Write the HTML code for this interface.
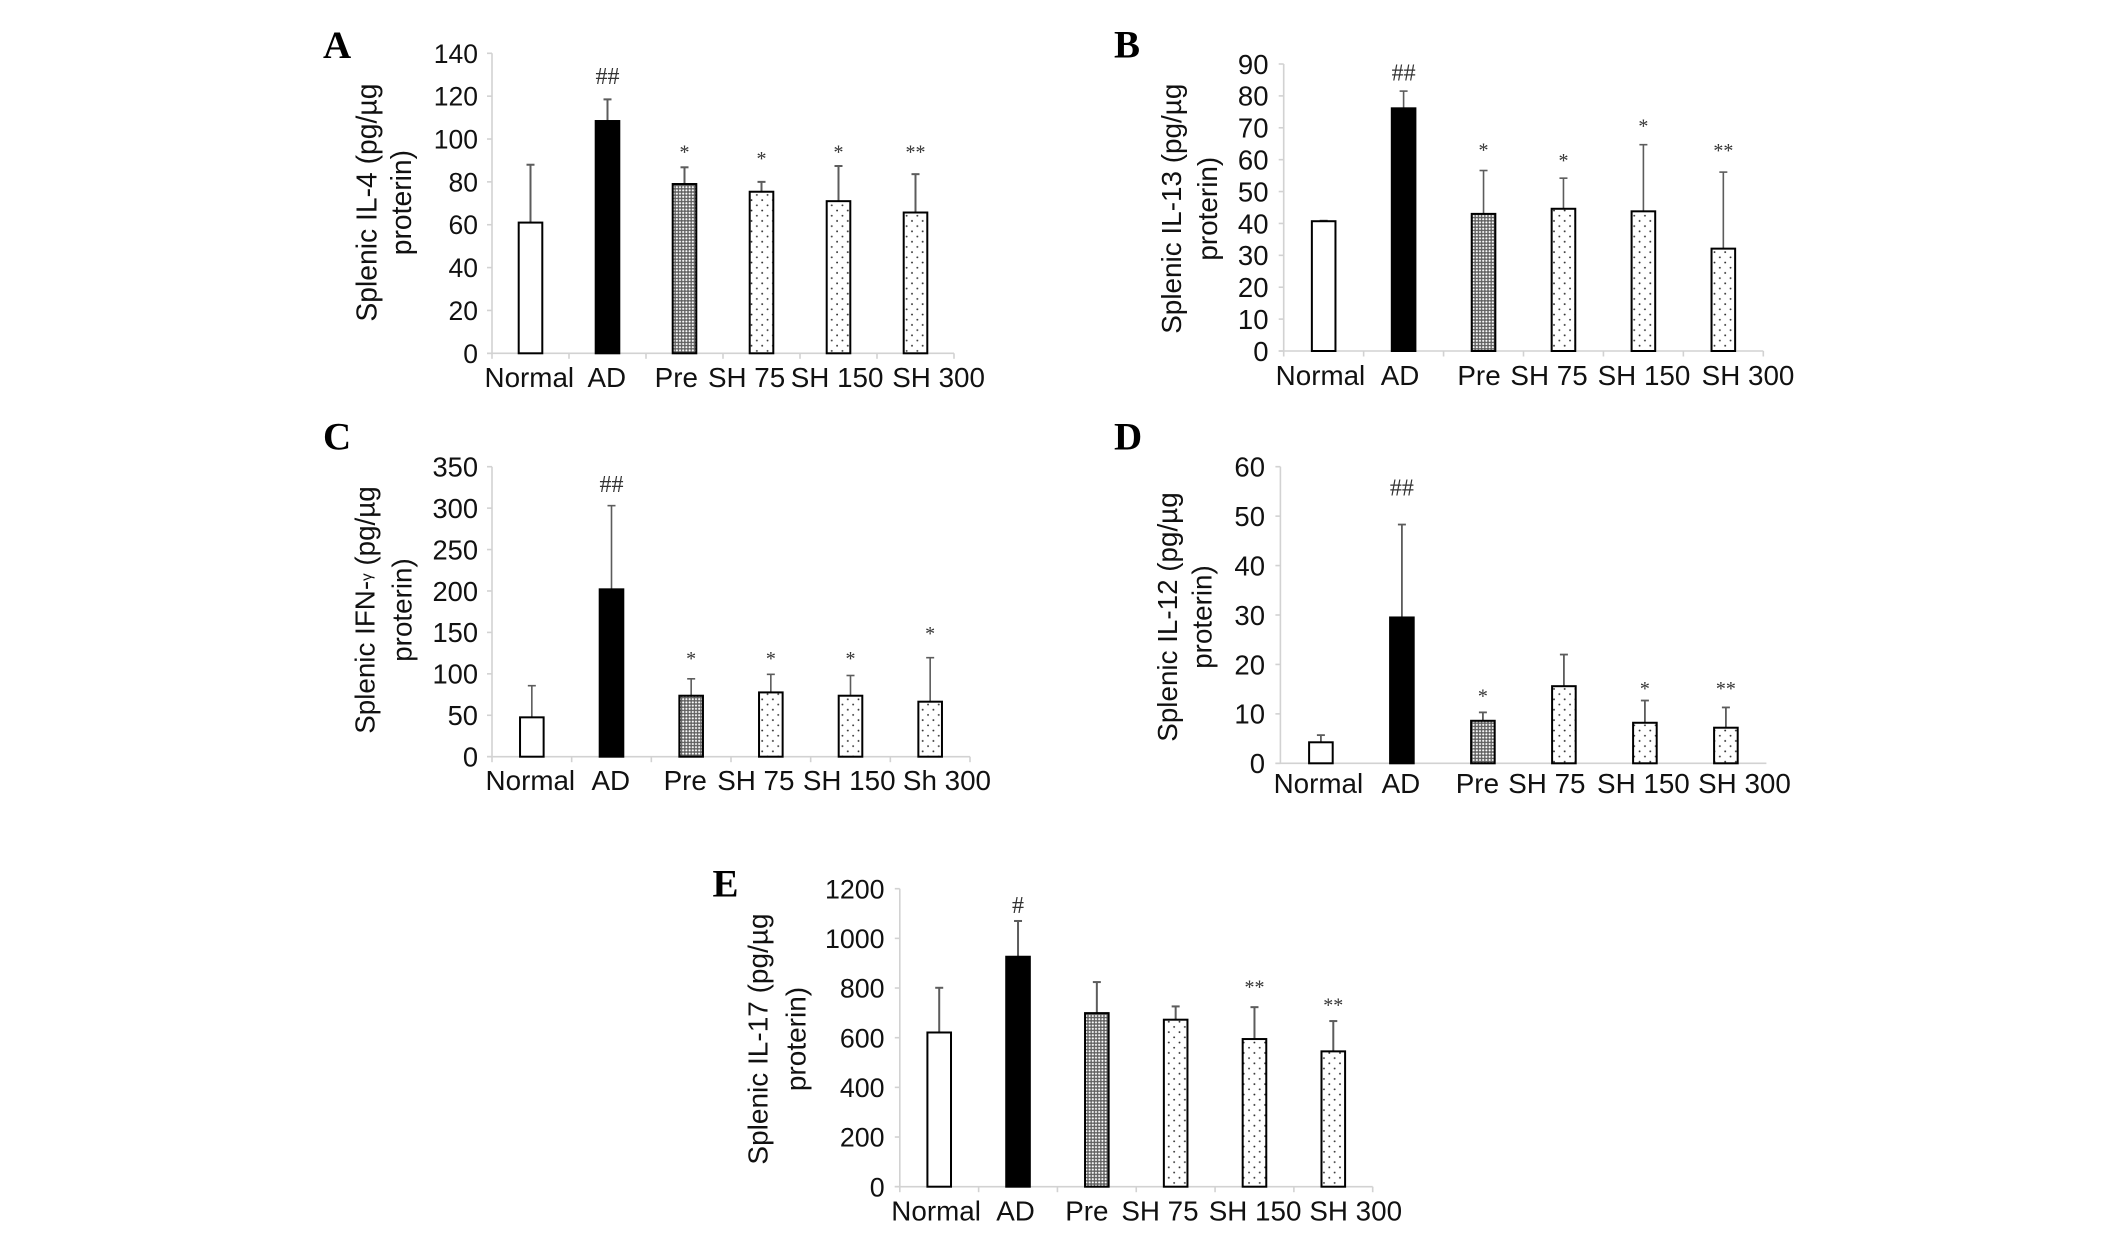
<!DOCTYPE html>
<html lang="en">
<head>
<meta charset="utf-8">
<title>Splenic cytokine levels</title>
<style>
html,body{margin:0;padding:0;background:#fff;}
#figure{display:block;width:2126px;height:1234px;background:#fff;}
text{font-family:"Liberation Sans",Arial,sans-serif;fill:#111;}
.panel-letter{font-family:"Liberation Serif","Times New Roman",serif;font-weight:bold;font-size:39px;fill:#000;}
.annotation{font-family:"Liberation Serif","Times New Roman",serif;fill:#333;text-anchor:middle;}
</style>
</head>
<body>
<svg id="figure" xmlns="http://www.w3.org/2000/svg" width="2126" height="1234" viewBox="0 0 2126 1234">
  <defs>
    <pattern id="pre-fill" patternUnits="userSpaceOnUse" width="3.2" height="3.2">
      <rect width="3.2" height="3.2" fill="#606060"/>
      <circle cx="1.6" cy="1.6" r="1.05" fill="#fff"/>
    </pattern>
    <pattern id="sh-fill" patternUnits="userSpaceOnUse" width="10.7" height="10.4">
      <rect width="10.7" height="10.4" fill="#fff"/>
      <circle cx="2.5" cy="2.5" r="0.95" fill="#2a2a2a"/>
      <circle cx="7.85" cy="7.7" r="0.95" fill="#3a3a3a"/>
    </pattern>
  </defs>
</svg>
<script>
// ---- Shared categories ----
const categories = ["Normal", "AD", "Pre", "SH 75", "SH 150", "SH 300"];
const categoriesC = ["Normal", "AD", "Pre", "SH 75", "SH 150", "Sh 300"];

// ---- Panel A: IL-4 ----
const il4Ticks = [0, 20, 40, 60, 80, 100, 120, 140];
const il4Means = [61, 108.4, 79, 75.4, 71, 65.7];
const il4ErrorTops = [88, 118.5, 86.8, 80, 87.4, 83.6];
const il4Marks = ["", "##", "*", "*", "*", "**"];
const il4MarkLevels = [0, 129.4, 94.9, 91.7, 94.9, 94.9];

// ---- Panel B: IL-13 ----
const il13Ticks = [0, 10, 20, 30, 40, 50, 60, 70, 80, 90];
const il13Means = [40.7, 76.1, 43, 44.6, 43.8, 32.1];
const il13ErrorTops = [40.9, 81.5, 56.6, 54.2, 64.7, 56.1];
const il13Marks = ["", "##", "*", "*", "*", "**"];
const il13MarkLevels = [0, 87.3, 63.6, 60.3, 71.1, 63.4];

// ---- Panel C: IFN-gamma ----
const ifnTicks = [0, 50, 100, 150, 200, 250, 300, 350];
const ifnMeans = [47.5, 202, 73.6, 77.6, 73.6, 66.4];
const ifnErrorTops = [85.7, 303, 94, 99.4, 98, 119.5];
const ifnMarks = ["", "##", "*", "*", "*", "*"];
const ifnMarkLevels = [0, 329, 120.7, 120.7, 120.7, 150.8];

// ---- Panel D: IL-12 ----
const il12Ticks = [0, 10, 20, 30, 40, 50, 60];
const il12Means = [4.25, 29.5, 8.6, 15.6, 8.2, 7.2];
const il12ErrorTops = [5.7, 48.3, 10.3, 22, 12.7, 11.3];
const il12Marks = ["", "##", "*", "", "*", "**"];
const il12MarkLevels = [0, 55.8, 14, 0, 15.5, 15.5];

// ---- Panel E: IL-17 ----
const il17Ticks = [0, 200, 400, 600, 800, 1000, 1200];
const il17Means = [621, 926, 699, 672.5, 594.6, 545];
const il17ErrorTops = [801, 1070, 824, 726, 723, 667];
const il17Marks = ["", "#", "", "", "**", "**"];
const il17MarkLevels = [0, 1134, 0, 0, 811, 739.6];

const SVG_NS = "http://www.w3.org/2000/svg";
const figure = document.getElementById("figure");

function make(parent, tag, attrs, text) {
  const el = document.createElementNS(SVG_NS, tag);
  for (const k in attrs) el.setAttribute(k, attrs[k]);
  if (text !== undefined) el.textContent = text;
  parent.appendChild(el);
  return el;
}

function drawPanel(cfg) {
  const group = make(figure, "g", {});
  
  

  const maxTick = cfg.ticks[cfg.ticks.length - 1];
  const yScale = v => cfg.y0 - (v / maxTick) * (cfg.y0 - cfg.yTop);
  const band = (cfg.xRight - cfg.xLeft) / cfg.cats.length;
  const xCenter = i => cfg.xLeft + band * (i + 0.5);

  const letter = make(group, "text", {x: cfg.letterX, y: cfg.letterY, "class": "panel-letter"}, cfg.id);
  
  

  // axes
  const yAxis = make(group, "line", {x1: cfg.xLeft, x2: cfg.xLeft, y1: cfg.yTop, y2: cfg.y0, stroke: "#d2d2d2", "stroke-width": 1.6});
  
  
  const xAxis = make(group, "line", {x1: cfg.xLeft - 5, x2: cfg.xRight, y1: cfg.y0, y2: cfg.y0, stroke: "#d2d2d2", "stroke-width": 1.6});
  
  

  cfg.ticks.forEach(t => {
    const y = yScale(t);
    const tick = make(group, "line", {x1: cfg.xLeft - 5, x2: cfg.xLeft, y1: y, y2: y, stroke: "#d2d2d2", "stroke-width": 1.6});
    
    
    const label = make(group, "text", {x: cfg.tickRight, y: y + cfg.tickSize * 0.358, "text-anchor": "end", "font-size": cfg.tickSize}, String(t));
    
    
  });

  if (cfg.xTicks) {
    for (let i = 0; i <= cfg.cats.length; i++) {
      const x = cfg.xLeft + band * i;
      const tick = make(group, "line", {x1: x, x2: x, y1: cfg.y0, y2: cfg.y0 + 5.5, stroke: "#d2d2d2", "stroke-width": 1.6});
      
      
    }
  }

  // titles
  const title1 = make(group, "text", {x: cfg.titleX1, y: cfg.titleCY, "text-anchor": "middle", "font-size": cfg.titleSize, transform: "rotate(-90 " + cfg.titleX1 + " " + cfg.titleCY + ")"});
  
  
  if (cfg.gamma) {
    make(title1, "tspan", {}, cfg.titleA);
    make(title1, "tspan", {"font-size": 15, dy: -3}, "γ");
    make(title1, "tspan", {dy: 3}, cfg.titleB);
  } else {
    title1.textContent = cfg.titleA;
  }
  const title2 = make(group, "text", {x: cfg.titleX2, y: cfg.titleCY, "text-anchor": "middle", "font-size": cfg.titleSize, transform: "rotate(-90 " + cfg.titleX2 + " " + cfg.titleCY + ")"}, "proterin)");
  
  

  // bars, errors, annotations, labels
  cfg.cats.forEach((cat, i) => {
    const cx = xCenter(i);
    const topY = yScale(cfg.means[i]);
    const errY = yScale(cfg.errs[i]);

    const err = make(group, "line", {x1: cx, x2: cx, y1: errY, y2: topY, stroke: "#5c5c5c", "stroke-width": cfg.errWidth});
    
    
    const cap = make(group, "line", {x1: cx - 4, x2: cx + 4, y1: errY, y2: errY, stroke: "#5c5c5c", "stroke-width": cfg.errWidth});
    
    

    const fill = i === 0 ? "#fff" : i === 1 ? "#000" : i === 2 ? "url(#pre-fill)" : "url(#sh-fill)";
    const bar = make(group, "rect", {x: cx - 11.8, y: topY, width: 23.6, height: cfg.y0 - topY, fill: fill, stroke: "#000", "stroke-width": 2});
    
    

    if (cfg.marks[i]) {
      const isHash = cfg.marks[i].indexOf("#") >= 0;
      const markSize = isHash ? 24 : 20;
      const my = yScale(cfg.markLevels[i]) + (isHash ? markSize * 0.33 : markSize * 0.42);
      const mark = make(group, "text", {x: cx, y: my, "class": "annotation", "font-size": markSize}, cfg.marks[i]);
      
      
    }

    const lab = make(group, "text", {x: cx + cfg.labelNudge[i], y: cfg.labelY, "text-anchor": "middle", "font-size": cfg.labelSize}, cat);
    
    
  });
}

drawPanel({
  id: "A", cats: categories, ticks: il4Ticks, means: il4Means, errs: il4ErrorTops, marks: il4Marks, markLevels: il4MarkLevels,
  xLeft: 492, xRight: 954, y0: 353.3, yTop: 53.3, xTicks: true, tickRight: 478, tickSize: 26.5, labelY: 387, labelSize: 27.8,
  labelNudge: [-1.2, -0.7, -8.2, -14.9, -1.4, 23.1], titleA: "Splenic IL-4 (pg/µg", titleSize: 28.3, titleX1: 376.6, titleX2: 411, titleCY: 202.6,
  letterX: 323, letterY: 58, errWidth: 2
});
drawPanel({
  id: "B", cats: categories, ticks: il13Ticks, means: il13Means, errs: il13ErrorTops, marks: il13Marks, markLevels: il13MarkLevels,
  xLeft: 1283.7, xRight: 1763.3, y0: 351, yTop: 64, xTicks: true, tickRight: 1268.5, tickSize: 27.5, labelY: 385, labelSize: 27.8,
  labelNudge: [-3.2, -3.6, -4.5, -14.4, 0.6, 24.7], titleA: "Splenic IL-13 (pg/µg", titleSize: 27.9, titleX1: 1181, titleX2: 1217, titleCY: 208.7,
  letterX: 1114, letterY: 57.5, errWidth: 1.6
});
drawPanel({
  id: "C", cats: categoriesC, ticks: ifnTicks, means: ifnMeans, errs: ifnErrorTops, marks: ifnMarks, markLevels: ifnMarkLevels,
  xLeft: 492, xRight: 970, y0: 756.7, yTop: 466.7, xTicks: true, tickRight: 478, tickSize: 27.3, labelY: 790, labelSize: 27.8,
  labelNudge: [-1.5, -0.7, -5.9, -15, -1.3, 16.8], gamma: true, titleA: "Splenic IFN-", titleB: " (pg/µg", titleSize: 27.8, titleX1: 374.6, titleX2: 411.6, titleCY: 610,
  letterX: 323, letterY: 449.7, errWidth: 1.6
});
drawPanel({
  id: "D", cats: categories, ticks: il12Ticks, means: il12Means, errs: il12ErrorTops, marks: il12Marks, markLevels: il12MarkLevels,
  xLeft: 1280.4, xRight: 1766.4, y0: 763.3, yTop: 466.7, xTicks: false, tickRight: 1265, tickSize: 27.5, labelY: 793, labelSize: 27.8,
  labelNudge: [-2.5, -1, -5.5, -17, -1.5, 18.6], titleA: "Splenic IL-12 (pg/µg", titleSize: 27.8, titleX1: 1177, titleX2: 1211.6, titleCY: 617,
  letterX: 1114, letterY: 449.7, errWidth: 1.8
});
drawPanel({
  id: "E", cats: categories, ticks: il17Ticks, means: il17Means, errs: il17ErrorTops, marks: il17Marks, markLevels: il17MarkLevels,
  xLeft: 899.8, xRight: 1372.7, y0: 1186.7, yTop: 888.7, xTicks: true, tickRight: 884.6, tickSize: 26.8, labelY: 1220.7, labelSize: 27.8,
  labelNudge: [-3.1, -2.5, -10, -15.7, 0.6, 22.4], titleA: "Splenic IL-17 (pg/µg", titleSize: 28, titleX1: 767.6, titleX2: 805.6, titleCY: 1039,
  letterX: 712.5, letterY: 896.3, errWidth: 2
});
</script>
</body>
</html>
